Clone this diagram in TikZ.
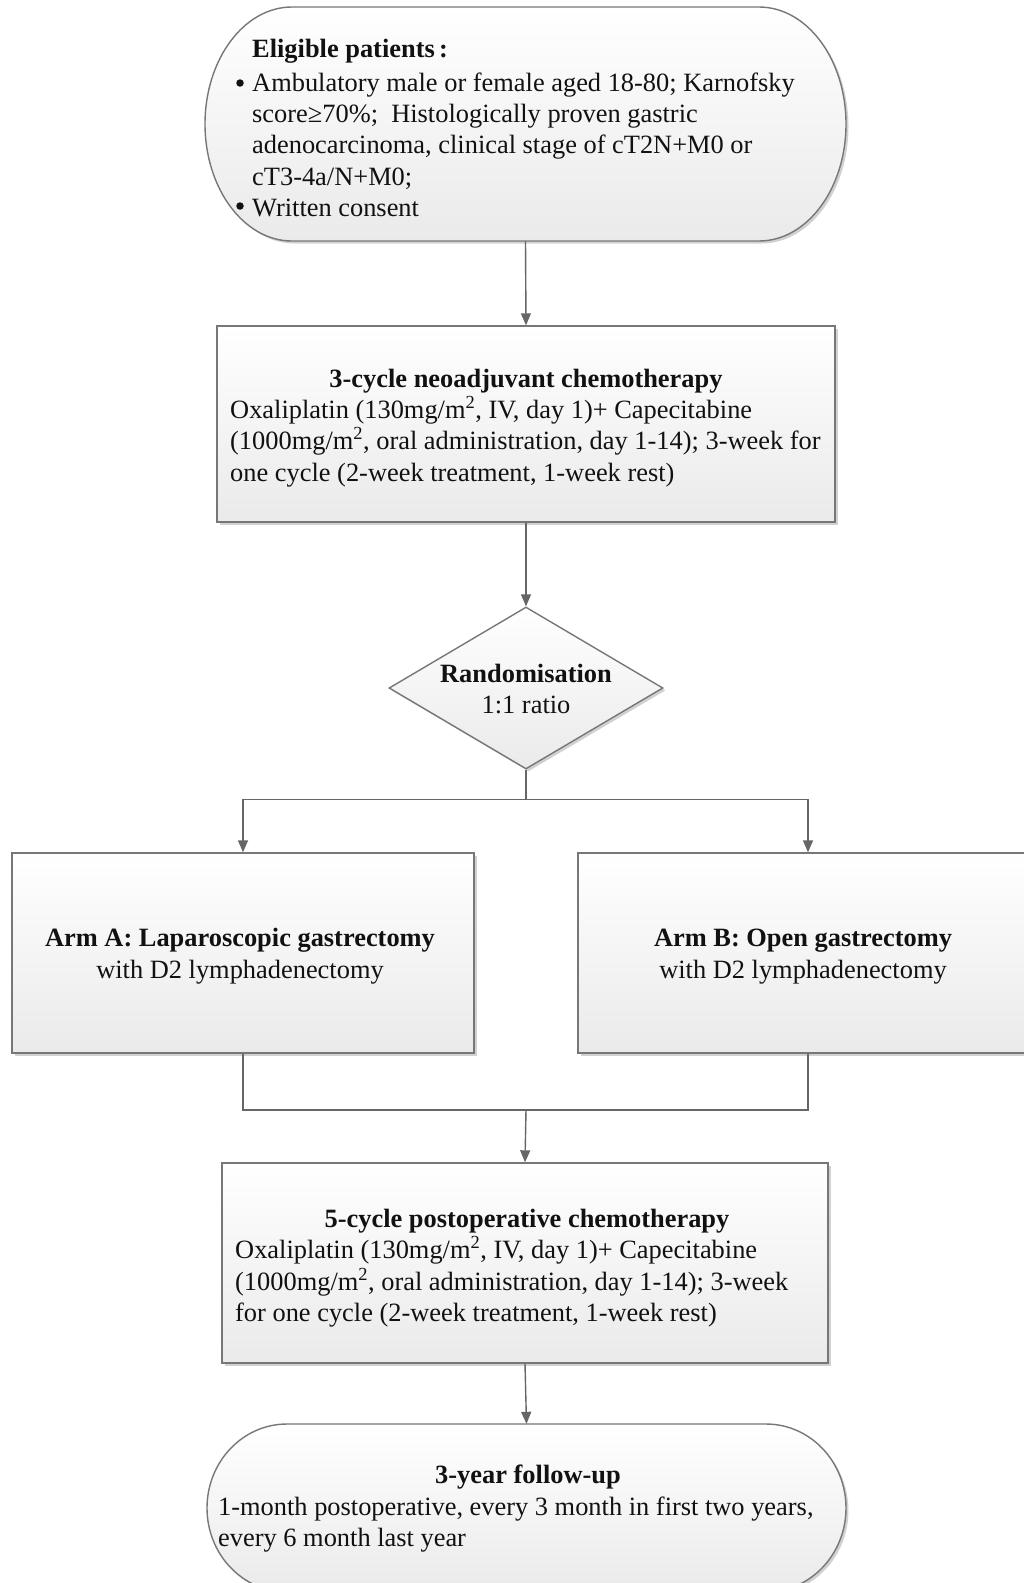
\documentclass[tikz,border=0pt]{standalone}
\usepackage{fontspec}
\setmainfont{Liberation Serif}
\usetikzlibrary{shapes.geometric,arrows.meta,shadows}
\definecolor{bordergray}{HTML}{777777}
\definecolor{linegray}{HTML}{666666}
\definecolor{fillbot}{HTML}{EAEAEA}
\definecolor{txt}{HTML}{111111}
\begin{document}
\begin{tikzpicture}[x=1pt,y=1pt,
  shp/.style={draw=bordergray, line width=1.4pt, top color=white, bottom color=fillbot,
    drop shadow={shadow xshift=2.5pt, shadow yshift=-2.5pt, opacity=0.18, fill=black}},
  boxnode/.style={shp, rectangle, inner sep=0pt},
  anchorbox/.style={rectangle, inner sep=0pt},
  conn/.style={draw=linegray, line width=1.4pt},
  arr/.style={conn, -{Triangle[length=12pt,width=10pt]}},
  txtl/.style={anchor=base west, inner sep=0pt, text=txt, font=\fontsize{26.4}{31.3}\selectfont},
  txtc/.style={anchor=base, inner sep=0pt, text=txt, font=\fontsize{26.4}{31.3}\selectfont},
  bul/.style={circle, fill=txt, inner sep=0pt, minimum size=7.5pt}
]
\useasboundingbox (0,0) rectangle (1024,-1583);
\fill[white] (0,0) rectangle (1024,-1583);

% ---- shapes ----
\node[anchorbox, minimum width=641pt, minimum height=234pt] (t1) at (525.5,-124) {};
\path[shp] (292,-7) -- (759,-7) arc[start angle=90, end angle=-90, x radius=87, y radius=117]
  -- (292,-241) arc[start angle=270, end angle=90, x radius=87, y radius=117] -- cycle;

\node[boxnode, minimum width=618pt, minimum height=196pt] (b1) at (526,-424) {};
\node[shp, diamond, inner sep=0pt, minimum width=274pt, minimum height=162pt] (dia) at (526,-688) {};
\node[boxnode, minimum width=462pt, minimum height=200pt] (armA) at (243,-953) {};
\node[boxnode, minimum width=460pt, minimum height=200pt] (armB) at (808,-953) {};
\node[boxnode, minimum width=606pt, minimum height=200pt] (b5) at (525,-1263) {};

\node[anchorbox, minimum width=639pt, minimum height=168pt] (t2) at (526.5,-1508) {};
\path[shp] (287,-1424) -- (766,-1424) arc[start angle=90, end angle=-90, x radius=80, y radius=84]
  -- (287,-1592) arc[start angle=270, end angle=90, x radius=80, y radius=84] -- cycle;

% ---- connectors ----
\draw[arr] (t1.south) -- (b1.north);
\draw[arr] (b1.south) -- (dia.north);
\draw[conn] (dia.south) -- ++(0,-30) coordinate (bj);
\draw[arr] (bj) -| (armA.north);
\draw[arr] (bj) -| (armB.north);
\coordinate (mj) at (526,-1110);
\draw[conn] (armA.south) |- (mj);
\draw[conn] (armB.south) |- (mj);
\draw[arr] (mj) -- (b5.north);
\draw[arr] (b5.south) -- (t2.north);

% ---- texts ----
\node[txtl] (t1a) at (252,-57) {\textbf{Eligible patients}\,\textbf{:}};
\node[bul] (t1b0) at (240,-83) {};
\node[txtl] (t1b) at (252,-91) {Ambulatory male or female aged 18-80; Karnofsky};
\node[txtl] (t1c) at (252,-122) {score≥70\%;\ \ Histologically proven gastric};
\node[txtl] (t1d) at (252,-153) {adenocarcinoma, clinical stage of cT2N+M0 or};
\node[txtl] (t1e) at (252,-185) {cT3-4a/N+M0;};
\node[bul] (t1f0) at (240,-206) {};
\node[txtl] (t1f) at (252,-216) {Written consent};

\node[txtc] (b1a) at (526,-387) {\textbf{3-cycle neoadjuvant chemotherapy}};
\node[txtl] (b1b) at (230,-418) {Oxaliplatin (130mg/m\textsuperscript{2}, IV, day 1)+ Capecitabine};
\node[txtl] (b1c) at (230,-449) {(1000mg/m\textsuperscript{2}, oral administration, day 1-14); 3-week for};
\node[txtl] (b1d) at (230,-481) {one cycle (2-week treatment, 1-week rest)};

\node[txtc] (da) at (526,-682) {\textbf{Randomisation}};
\node[txtc] (db) at (526,-713) {1:1 ratio};

\node[txtc] (aa1) at (240,-946) {\textbf{Arm A: Laparoscopic gastrectomy}};
\node[txtc] (aa2) at (240,-978) {with D2 lymphadenectomy};
\node[txtc] (ab1) at (803,-946) {\textbf{Arm B: Open gastrectomy}};
\node[txtc] (ab2) at (803,-978) {with D2 lymphadenectomy};

\node[txtc] (b5a) at (527,-1227) {\textbf{5-cycle postoperative chemotherapy}};
\node[txtl] (b5b) at (235,-1258) {Oxaliplatin (130mg/m\textsuperscript{2}, IV, day 1)+ Capecitabine};
\node[txtl] (b5c) at (235,-1290) {(1000mg/m\textsuperscript{2}, oral administration, day 1-14); 3-week};
\node[txtl] (b5d) at (235,-1321) {for one cycle (2-week treatment, 1-week rest)};

\node[txtc] (t2a) at (528,-1483) {\textbf{3-year follow-up}};
\node[txtl] (t2b) at (218,-1515) {1-month postoperative, every 3 month in first two years,};
\node[txtl] (t2c) at (218,-1546) {every 6 month last year};
\end{tikzpicture}
\end{document}
